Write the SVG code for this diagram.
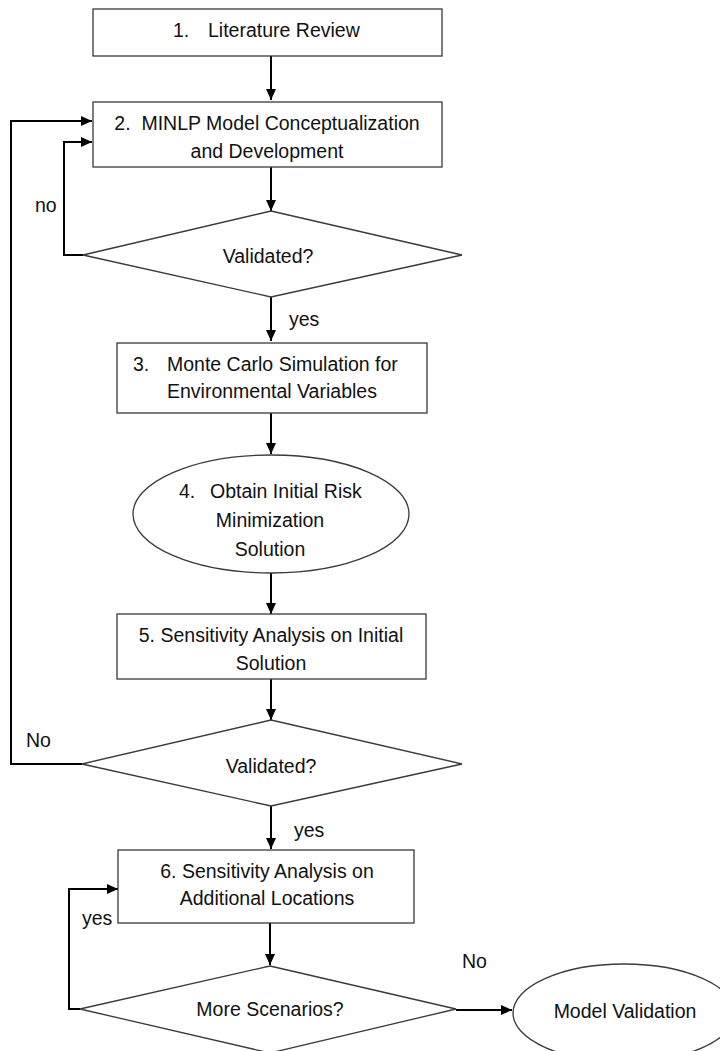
<svg xmlns="http://www.w3.org/2000/svg" width="720" height="1051" viewBox="0 0 720 1051">
  <style>
    .shape { fill: #ffffff; stroke: #3a3a3a; stroke-width: 1.3; }
    .conn { fill: none; stroke: #000000; stroke-width: 2; }
    text { font-family: "Liberation Sans", Arial, sans-serif; font-size: 19.5px; fill: #111111; white-space: pre; }
    .c { text-anchor: middle; }
  </style>
  <defs>
    <marker id="arrow" markerWidth="11" markerHeight="10" refX="11" refY="5" orient="auto" markerUnits="userSpaceOnUse">
      <path d="M0,0 L11,5 L0,10 Z" fill="#000000"/>
    </marker>
  </defs>
  <rect width="720" height="1051" fill="#ffffff"/>

  <!-- connectors -->
  <g id="connectors">
    <line class="conn" x1="271" y1="56" x2="271" y2="100" marker-end="url(#arrow)"/>
    <line class="conn" x1="271" y1="167" x2="271" y2="211" marker-end="url(#arrow)"/>
    <polyline class="conn" points="83,255 64,255 64,142 92,142" marker-end="url(#arrow)"/>
    <line class="conn" x1="271" y1="297" x2="271" y2="341" marker-end="url(#arrow)"/>
    <line class="conn" x1="271" y1="413" x2="271" y2="454" marker-end="url(#arrow)"/>
    <line class="conn" x1="271" y1="573" x2="271" y2="614" marker-end="url(#arrow)"/>
    <line class="conn" x1="271" y1="679" x2="271" y2="720" marker-end="url(#arrow)"/>
    <polyline class="conn" points="82,764 11,764 11,121 92,121" marker-end="url(#arrow)"/>
    <line class="conn" x1="271" y1="806" x2="271" y2="849" marker-end="url(#arrow)"/>
    <line class="conn" x1="270" y1="923" x2="270" y2="965" marker-end="url(#arrow)"/>
    <polyline class="conn" points="80,1009 69,1009 69,889 118,889" marker-end="url(#arrow)"/>
    <line class="conn" x1="456" y1="1010" x2="512" y2="1010" marker-end="url(#arrow)"/>
  </g>

  <!-- branch labels -->
  <g id="labels">
    <text x="35" y="212">no</text>
    <text x="289" y="326">yes</text>
    <text x="26" y="747">No</text>
    <text x="294" y="837">yes</text>
    <text x="82" y="925">yes</text>
    <text x="462" y="968">No</text>
  </g>

  <g id="node-literature-review">
    <rect class="shape" x="93" y="9" width="349" height="47"/>
    <text x="173" y="37">1.</text>
    <text x="208" y="37">Literature Review</text>
  </g>

  <g id="node-minlp-model">
    <rect class="shape" x="93" y="102" width="349" height="65"/>
    <text class="c" x="267" y="130" xml:space="preserve">2.  MINLP Model Conceptualization</text>
    <text class="c" x="267" y="158">and Development</text>
  </g>

  <g id="node-validated-1">
    <polygon class="shape" points="271,211 462,255 271,297 83,255"/>
    <text class="c" x="268" y="263">Validated?</text>
  </g>

  <g id="node-monte-carlo">
    <rect class="shape" x="117" y="343" width="310" height="70"/>
    <text x="133" y="371">3.</text>
    <text x="167" y="371">Monte Carlo Simulation for</text>
    <text x="167" y="398">Environmental Variables</text>
  </g>

  <g id="node-initial-solution">
    <ellipse class="shape" cx="271" cy="514" rx="138" ry="59"/>
    <text x="179" y="498">4.</text>
    <text x="210" y="498">Obtain Initial Risk</text>
    <text class="c" x="270" y="527">Minimization</text>
    <text class="c" x="270" y="556">Solution</text>
  </g>

  <g id="node-sensitivity-initial">
    <rect class="shape" x="117" y="614" width="309" height="65"/>
    <text class="c" x="271" y="642">5. Sensitivity Analysis on Initial</text>
    <text class="c" x="271" y="670">Solution</text>
  </g>

  <g id="node-validated-2">
    <polygon class="shape" points="271,720 462,764 271,806 82,764"/>
    <text class="c" x="271" y="773">Validated?</text>
  </g>

  <g id="node-sensitivity-additional">
    <rect class="shape" x="118" y="850" width="296" height="73"/>
    <text class="c" x="267" y="878">6. Sensitivity Analysis on</text>
    <text class="c" x="267" y="905">Additional Locations</text>
  </g>

  <g id="node-more-scenarios">
    <polygon class="shape" points="270,966 456,1009 270,1053 80,1009"/>
    <text class="c" x="270" y="1016">More Scenarios?</text>
  </g>

  <g id="node-model-validation">
    <ellipse class="shape" cx="624" cy="1013" rx="111" ry="49"/>
    <text class="c" x="625" y="1018">Model Validation</text>
  </g>
</svg>
